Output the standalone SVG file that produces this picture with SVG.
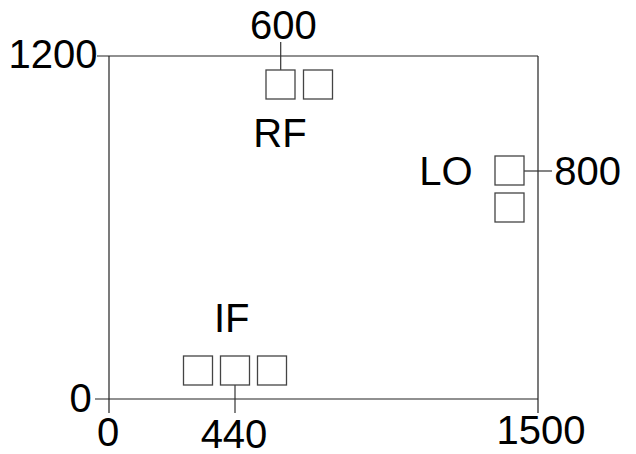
<svg xmlns="http://www.w3.org/2000/svg" width="636" height="454" viewBox="0 0 636 454">
  <style>
    .axis { stroke: #222; stroke-width: 1.2; fill: none; }
    .tick { stroke: #333; stroke-width: 1.2; fill: none; }
    .box { fill: #fff; stroke: #444; stroke-width: 1.3; }
    text { font-family: "Liberation Sans", Arial, sans-serif; font-size: 40px; fill: #000; }
  </style>
  <rect width="636" height="454" fill="#fff"/>

  <!-- frame with axis overhangs -->
  <g id="frame">
    <line class="axis" x1="97" y1="56" x2="538" y2="56"/>
    <line class="axis" x1="95" y1="399" x2="538" y2="399"/>
    <line class="axis" x1="109" y1="56" x2="109" y2="413"/>
    <line class="axis" x1="538" y1="56" x2="538" y2="413"/>
  </g>

  <!-- axis labels -->
  <g id="labels">
    <text x="97.5" y="68" text-anchor="end">1200</text>
    <text x="91.7" y="411.5" text-anchor="end">0</text>
    <text x="108" y="446" text-anchor="middle">0</text>
    <text x="541" y="443.5" text-anchor="middle">1500</text>
  </g>

  <g id="connectors">
    <line class="tick" x1="280.7" y1="42" x2="280.7" y2="70"/>
    <line class="tick" x1="524" y1="171" x2="552" y2="171"/>
    <line class="tick" x1="235" y1="385" x2="235" y2="413"/>
  </g>

  <g id="rf">
    <rect class="box" x="266" y="70" width="29" height="29"/>
    <rect class="box" x="303.5" y="70" width="29" height="29"/>
    <text x="280" y="146.5" text-anchor="middle">RF</text>
    <text x="283.3" y="39" text-anchor="middle">600</text>
  </g>

  <g id="lo">
    <rect class="box" x="495" y="156" width="29" height="29"/>
    <rect class="box" x="495" y="193" width="29" height="29"/>
    <text x="446" y="185" text-anchor="middle">LO</text>
    <text x="554.3" y="184.5">800</text>
  </g>

  <g id="if">
    <rect class="box" x="183.5" y="356" width="29" height="29"/>
    <rect class="box" x="220.5" y="356" width="29" height="29"/>
    <rect class="box" x="257.5" y="356" width="29" height="29"/>
    <text x="231.7" y="332" text-anchor="middle">IF</text>
    <text x="234" y="447.5" text-anchor="middle">440</text>
  </g>
</svg>
